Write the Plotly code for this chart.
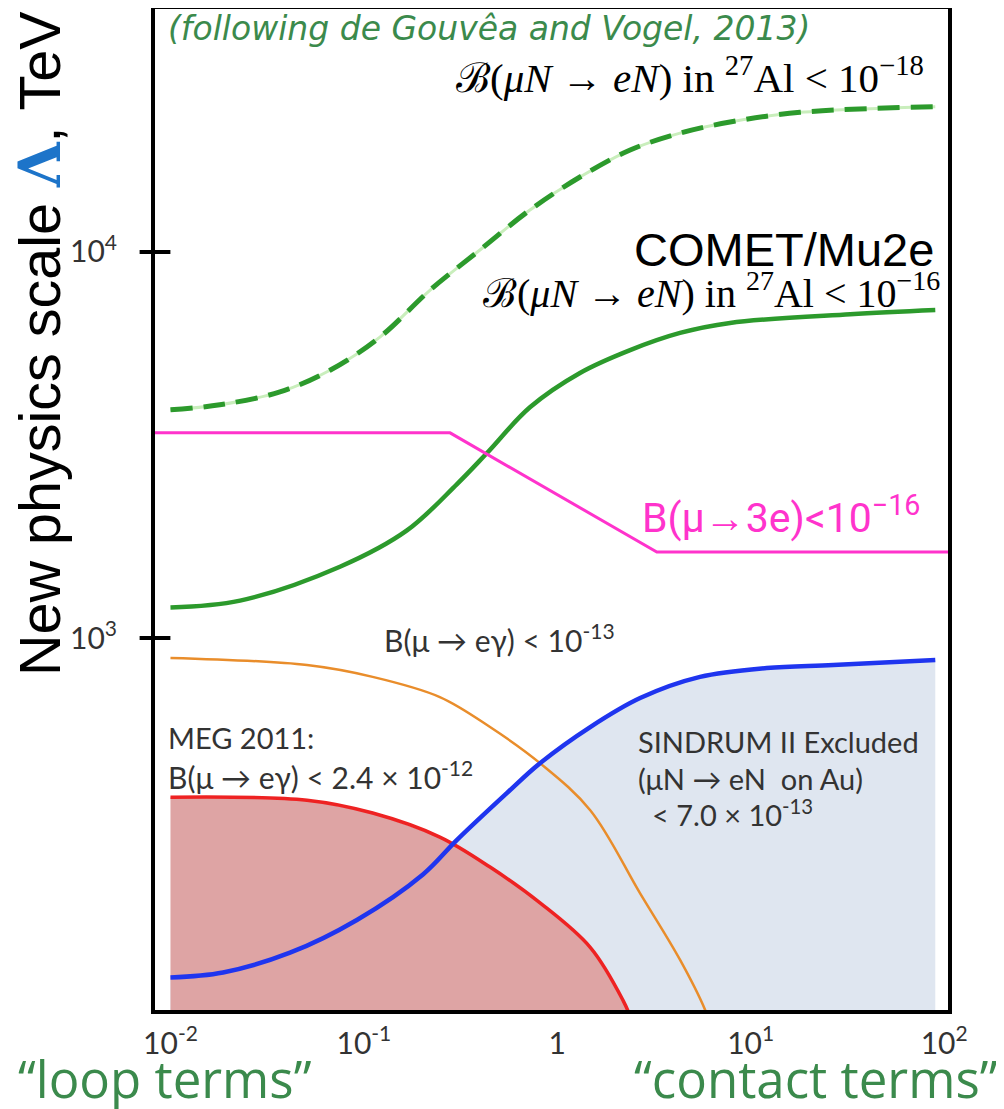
import plotly.graph_objects as go

# ---------------- data (x: ratio kappa, y: Lambda in TeV) ----------------
x_dashed = [0.01, 0.018, 0.0368, 0.0668, 0.121, 0.22, 0.398, 0.722, 1.31, 2.38, 4.31, 7.82, 18.0, 90.0]
y_dashed = [3900, 4020, 4340, 4940, 6020, 7970, 10120, 12850, 15640, 18370, 20320, 21710, 23000, 23800]

x_green = [0.01, 0.0229, 0.0752, 0.167, 0.303, 0.433, 0.722, 1.31, 2.38, 4.31, 7.82, 32.7, 90.0]
y_green = [1200, 1250, 1530, 1900, 2505, 3015, 3960, 4860, 5570, 6170, 6550, 6900, 7080]

x_pink = [0.0083, 0.279, 3.27, 107.0]
y_pink = [3400, 3400, 1670, 1670]

x_orange = [0.01, 0.0508, 0.111, 0.247, 0.449, 0.814, 1.48, 2.68, 4.30, 5.80, 6.6]
y_orange = [888, 851, 793, 703, 588, 474, 358, 218, 147, 109, 90]

x_red = [0.01, 0.0508, 0.111, 0.247, 0.449, 0.814, 1.48, 2.19, 2.43]
y_red = [387, 380, 352, 305, 255, 206, 158, 115, 102]

x_blue = [0.01, 0.0187, 0.0415, 0.092, 0.202, 0.303, 0.55, 0.814, 1.48, 2.68, 5.47, 12.1, 26.7, 90.0]
y_blue = [132, 136, 153, 186, 244, 300, 397, 474, 588, 699, 793, 836, 851, 877]

x_tickvals = [0.01, 0.1, 1, 10, 100]
x_ticktext = ["10<sup>-2</sup>", "10<sup>-1</sup>", "1", "10<sup>1</sup>", "10<sup>2</sup>"]
y_tickvals = [1000, 10000]
y_ticktext = ["10<sup>3</sup>", "10<sup>4</sup>"]

X_RANGE = [-2.08, 2.02]
Y_RANGE = [2.0363, 4.6295]
FLOOR = 50  # below the visible range, used to close filled areas

GREEN = "#2c9a2c"
TXT_GREEN = "#3b8a4c"
GRAY = "#333333"

fig = go.Figure()

# SINDRUM excluded region (light blue)
fig.add_trace(go.Scatter(
    x=x_blue + [x_blue[-1], x_blue[0]], y=y_blue + [FLOOR, FLOOR],
    fill="toself", fillcolor="#dfe6f0", line=dict(width=0), mode="lines",
    hoverinfo="skip"))
# MEG excluded region (red)
fig.add_trace(go.Scatter(
    x=x_red + [x_red[-1], x_red[0]], y=y_red + [FLOOR, FLOOR],
    fill="toself", fillcolor="#dea4a4", line=dict(width=0), mode="lines",
    hoverinfo="skip"))

fig.add_trace(go.Scatter(x=x_orange, y=y_orange, mode="lines",
                         line=dict(color="#e98d2b", width=2.5, shape="spline")))
fig.add_trace(go.Scatter(x=x_red, y=y_red, mode="lines",
                         line=dict(color="#ee2222", width=3.5, shape="spline")))
fig.add_trace(go.Scatter(x=x_blue, y=y_blue, mode="lines",
                         line=dict(color="#1f35ef", width=4.5, shape="spline")))
fig.add_trace(go.Scatter(x=x_green, y=y_green, mode="lines",
                         line=dict(color=GREEN, width=4.5, shape="spline")))
fig.add_trace(go.Scatter(x=x_dashed, y=y_dashed, mode="lines",
                         line=dict(color="#c9eebc", width=3, shape="spline")))
fig.add_trace(go.Scatter(x=x_dashed, y=y_dashed, mode="lines",
                         line=dict(color=GREEN, width=5, shape="spline", dash="22px,11px")))
fig.add_trace(go.Scatter(x=x_pink, y=y_pink, mode="lines",
                         line=dict(color="#ff33cc", width=3)))

# y tick crosses on the axis line
fig.add_trace(go.Scatter(x=[10 ** X_RANGE[0]] * 2, y=y_tickvals, mode="markers",
                         marker=dict(symbol="line-ew", size=22,
                                     line=dict(color="black", width=4)),
                         cliponaxis=False, hoverinfo="skip"))

# page offset: the html body adds an 8px margin
OFF = 8
W, H = 1004 - OFF, 1109 - OFF
PL, PR, PT, PB = 155, 948, 9, 1010   # plot box in page pixels
L, R, T, B = PL - OFF, W - (PR - OFF), PT - OFF, H - (PB - OFF)


def px(xp):
    return (xp - PL) / (PR - PL)


def py(yp):
    return (PB - yp) / (PB - PT)


ann = []


def add(text, xp, yp, size, color=GRAY, family="Lato", xanchor="left", yanchor="middle", **kw):
    ann.append(dict(text=text, x=px(xp), y=py(yp), xref="paper", yref="paper",
                    showarrow=False, xanchor=xanchor, yanchor=yanchor,
                    font=dict(size=size, color=color, family=family), **kw))


add("<i>(following de Gouvêa and Vogel, 2013)</i>", 166, 28, 33, TXT_GREEN, "DejaVu Sans")
add("ℬ(<i>μN</i> → <i>eN</i>) in <sup>27</sup>Al &lt; 10<sup>−18</sup>", 926, 75, 41, "black",
    "Liberation Serif", xanchor="right")
add("COMET/Mu2e", 936, 250, 47, "black", "Liberation Sans", xanchor="right")
add("ℬ(<i>μN</i> → <i>eN</i>) in <sup>27</sup>Al &lt; 10<sup>−16</sup>", 942, 290, 40, "black",
    "Liberation Serif", xanchor="right")
add("B(μ→3e)&lt;10<sup>−16</sup>", 640, 515, 41, "#ff33cc", "Roboto")
add("B(μ → eγ) &lt; 10<sup>-13</sup>", 382, 638, 30)
add("MEG 2011:", 166, 737, 29)
add("B(μ → eγ) &lt; 2.4 × 10<sup>-12</sup>", 166, 775, 30)
add("SINDRUM II Excluded", 636, 741, 29)
add("(μN → eN  on Au)", 636, 779, 29)
add("&lt; 7.0 × 10<sup>-13</sup>", 650, 813, 29)
add("“loop terms”", 16, 1078, 51, TXT_GREEN, "Open Sans")
add("“contact terms”", 1000, 1078, 51, TXT_GREEN, "Open Sans", xanchor="right")
add("New physics scale <b><span style='font-family:DejaVu Serif;color:#1d74c9'>Λ</span></b>, TeV",
    40, 344, 57.5, "black", "Liberation Sans", xanchor="center", textangle=-90)

fig.update_layout(
    width=W, height=H,
    margin=dict(l=L, r=R, t=T, b=B, autoexpand=False),
    paper_bgcolor="white", plot_bgcolor="white",
    showlegend=False,
    annotations=ann,
    xaxis=dict(type="log", range=X_RANGE, showgrid=False, zeroline=False,
               showline=True, linewidth=4, linecolor="black", mirror=True,
               tickvals=x_tickvals, ticktext=x_ticktext, automargin=False,
               ticks="outside", ticklen=4, tickcolor="rgba(0,0,0,0)",
               tickfont=dict(size=30, color=GRAY, family="Lato")),
    yaxis=dict(type="log", range=Y_RANGE, showgrid=False, zeroline=False,
               showline=True, linewidth=4, linecolor="black", mirror=True,
               tickvals=y_tickvals, ticktext=y_ticktext, automargin=False,
               ticks="outside", ticklen=28, tickcolor="rgba(0,0,0,0)",
               tickfont=dict(size=30, color=GRAY, family="Lato")),
)

fig.write_html("out.html")
